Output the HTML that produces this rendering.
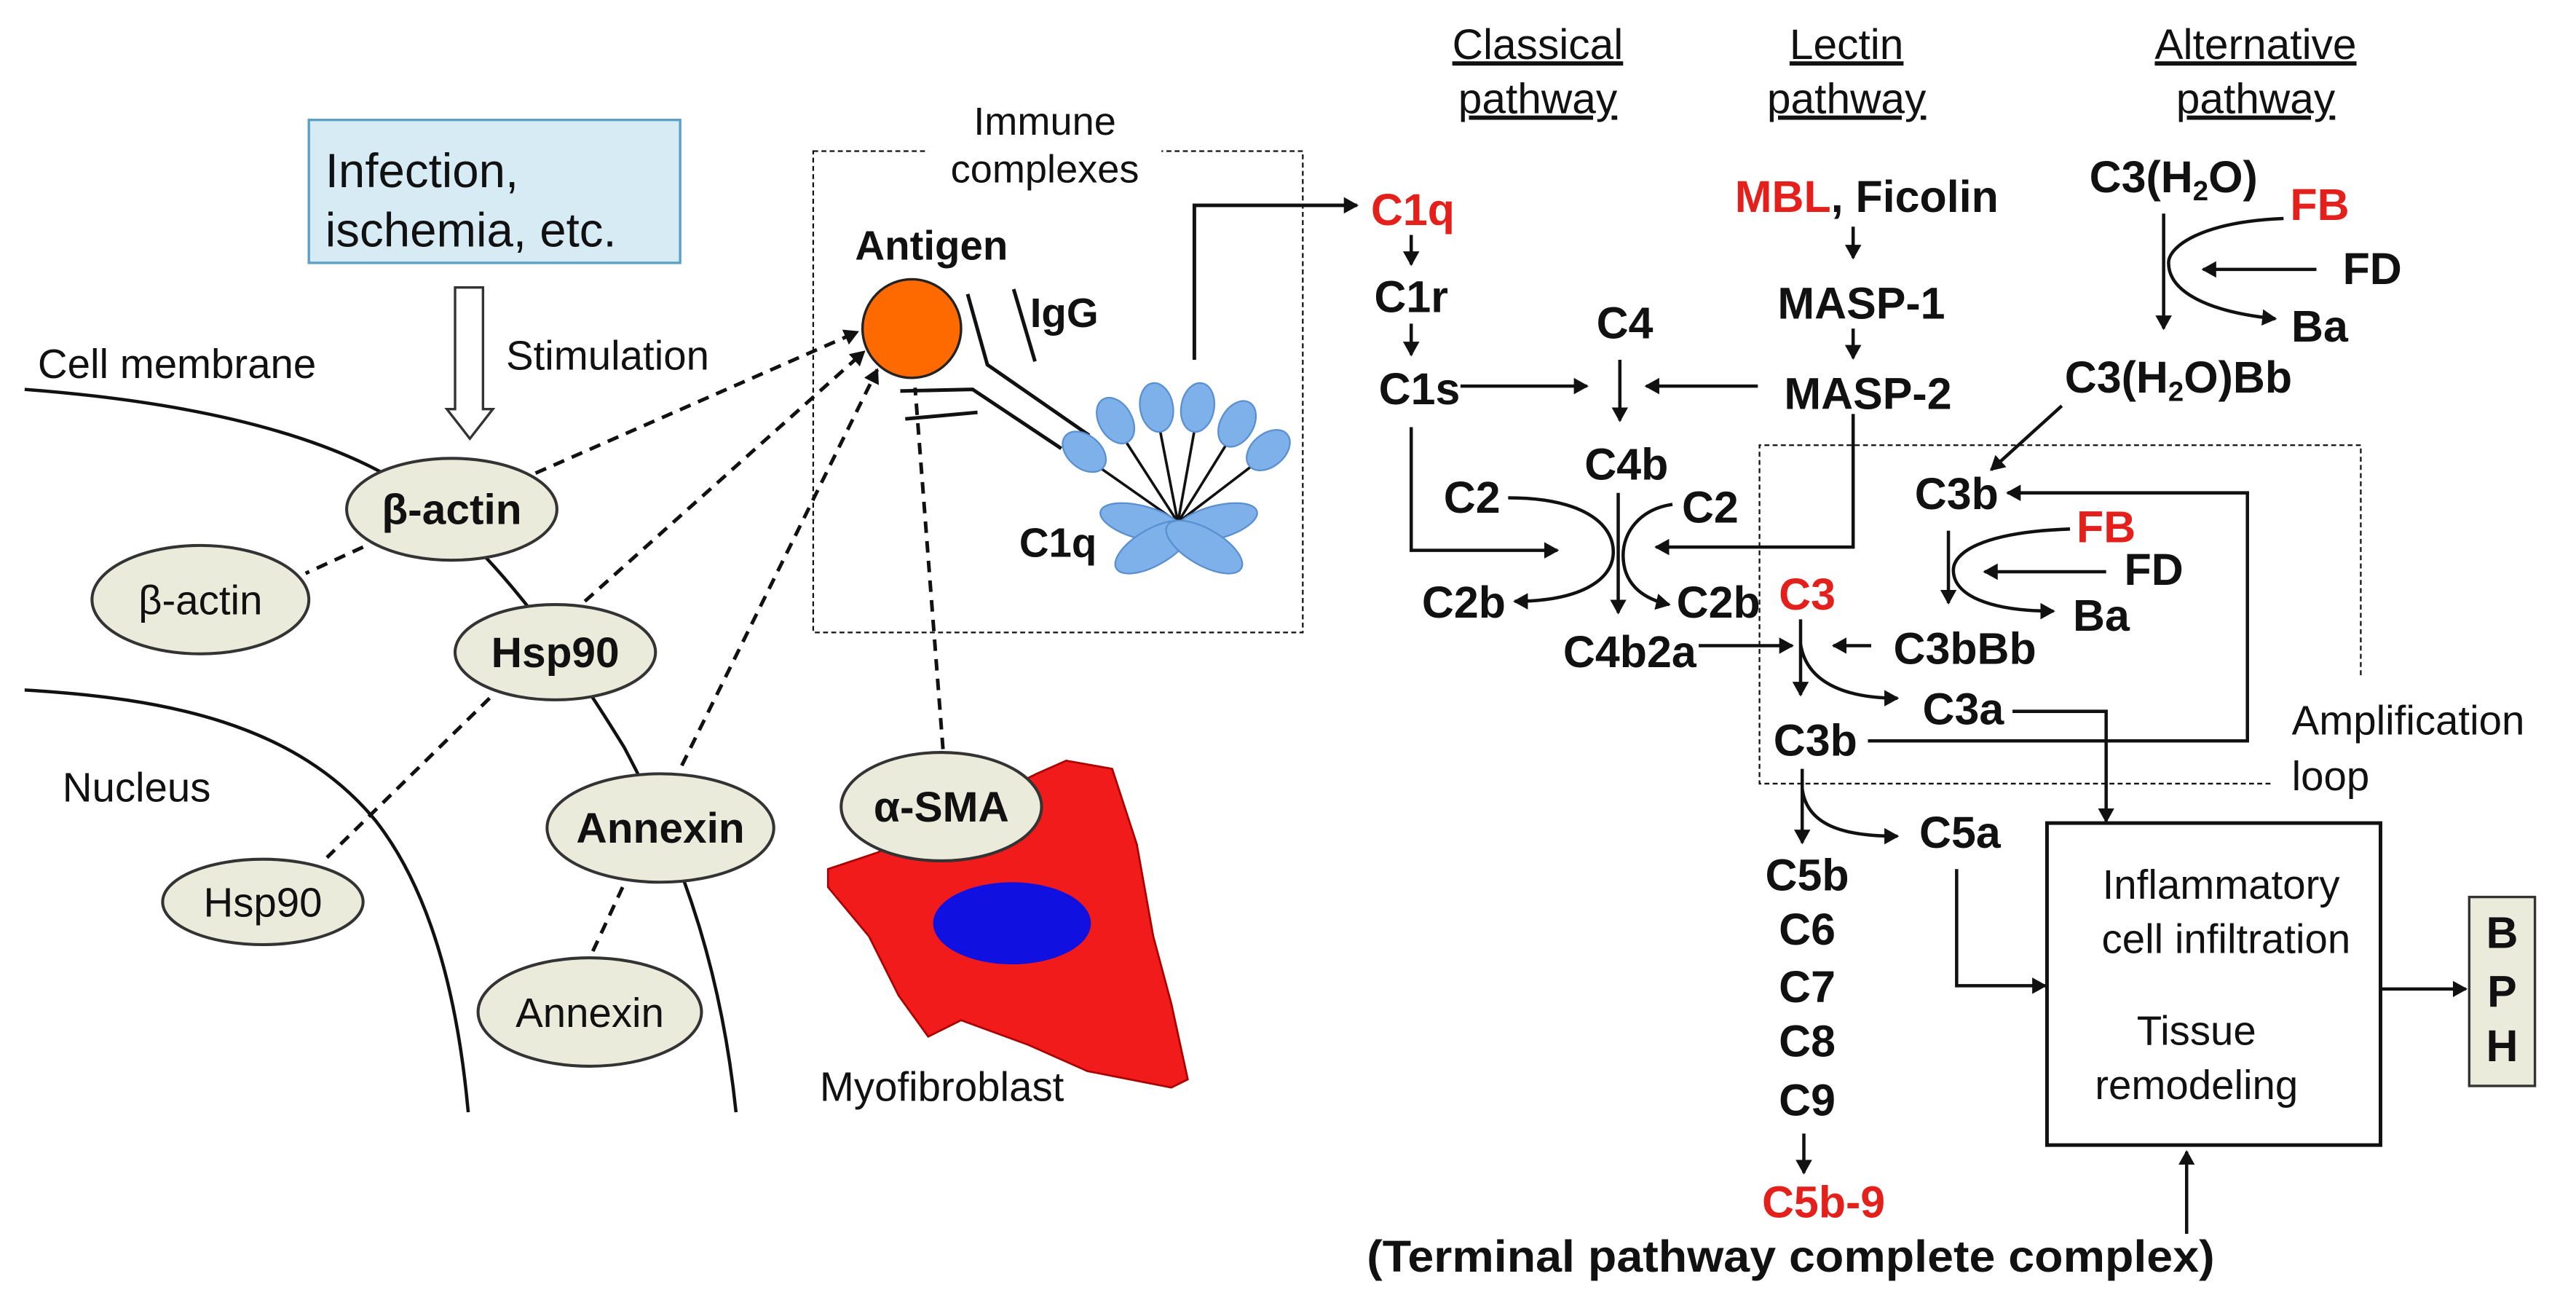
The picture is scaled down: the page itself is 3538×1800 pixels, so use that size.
<!DOCTYPE html>
<html><head><meta charset="utf-8"><style>
html,body{margin:0;padding:0;background:#fff;}
svg{display:block;}
text{font-family:"Liberation Sans",sans-serif;fill:#111;}
.b{font-weight:bold;font-size:27px;}
.r{font-size:27px;}
.red{fill:#e3201b;}
</style></head><body>
<svg width="3538" height="1800" viewBox="0 0 1568 798" preserveAspectRatio="none" xmlns="http://www.w3.org/2000/svg">
<defs>
<marker id="ah" markerWidth="10" markerHeight="10" refX="8" refY="5" orient="auto" markerUnits="userSpaceOnUse">
<path d="M0,0 L9,5 L0,10 Z" fill="#111"/></marker>
</defs>
<rect width="1568" height="798" fill="#fff"/>

<path d="M15,237 C120,245 200,265 250,298 C300,335 340,390 380,455 C420,530 440,600 448,677" fill="none" stroke="#111" stroke-width="2"/>
<path d="M15,420 C100,425 180,440 229,500 C260,540 278,600 285,677" fill="none" stroke="#111" stroke-width="2"/>

<rect x="188" y="73" width="226" height="87" fill="#d7ebf4" stroke="#5aa0c8" stroke-width="1.5"/>
<text x="198" y="114" style="font-size:29px">Infection,</text>
<text x="198" y="150" style="font-size:29px">ischemia, etc.</text>
<path d="M277,175 H294 V249 H300 L286,267 L272,249 H277 Z" fill="#fff" stroke="#333" stroke-width="1.5"/>
<text x="308" y="225" class="r" style="font-size:25px">Stimulation</text>
<text x="23" y="230" class="r" style="font-size:25px">Cell membrane</text>
<text x="38" y="488" class="r" style="font-size:25px">Nucleus</text>

<g stroke="#111" stroke-width="2.2" stroke-dasharray="7,5" fill="none">
<line x1="221" y1="333" x2="186" y2="349"/>
<line x1="298" y1="425" x2="199" y2="522"/>
<line x1="379" y1="540" x2="359" y2="583"/>
<line x1="326" y1="288" x2="522" y2="202" marker-end="url(#ah)"/>
<line x1="356" y1="366" x2="526" y2="214" marker-end="url(#ah)"/>
<line x1="415" y1="466" x2="534" y2="225" marker-end="url(#ah)"/>
<line x1="574" y1="456" x2="557" y2="236"/>
</g>

<g fill="#ebebdb" stroke="#333" stroke-width="1.8">
<ellipse cx="122" cy="365" rx="66" ry="33"/>
<ellipse cx="160" cy="549" rx="61" ry="26"/>
<ellipse cx="359" cy="616" rx="68" ry="33"/>
<ellipse cx="275" cy="310" rx="64" ry="31"/>
<ellipse cx="338" cy="397" rx="61" ry="29"/>
<ellipse cx="402" cy="504" rx="69" ry="33"/>
</g>
<text x="122" y="374" class="r" text-anchor="middle" style="font-size:25px">β-actin</text>
<text x="160" y="558" class="r" text-anchor="middle" style="font-size:25px">Hsp90</text>
<text x="359" y="625" class="r" text-anchor="middle" style="font-size:25px">Annexin</text>
<text x="275" y="319" class="b" text-anchor="middle" style="font-size:26px">β-actin</text>
<text x="338" y="406" class="b" text-anchor="middle" style="font-size:26px">Hsp90</text>
<text x="402" y="513" class="b" text-anchor="middle" style="font-size:26px">Annexin</text>

<rect x="495" y="92" width="298" height="293" fill="none" stroke="#111" stroke-width="1" stroke-dasharray="3,2"/>
<rect x="565" y="60" width="142" height="58" fill="#fff"/>
<text x="636" y="82" class="r" text-anchor="middle" style="font-size:24px">Immune</text>
<text x="636" y="111" class="r" text-anchor="middle" style="font-size:24px">complexes</text>
<text x="567" y="158" class="b" text-anchor="middle" style="font-size:25px">Antigen</text>
<circle cx="555" cy="200" r="30" fill="#ff6a00" stroke="#222" stroke-width="1.5"/>
<text x="627" y="199" class="b" style="font-size:25px">IgG</text>
<g stroke="#111" stroke-width="2.2" fill="none">
<polyline points="589,179 601,222 663,265"/>
<line x1="617" y1="176" x2="630" y2="220"/>
<polyline points="548,238 592,237 646,273"/>
<line x1="551" y1="255" x2="595" y2="251"/>
<polyline points="727,219 727,125 826,125" marker-end="url(#ah)"/>
</g>
<g stroke="#111" stroke-width="1.6">
<line x1="717" y1="318" x2="660" y2="278"/>
<line x1="717" y1="318" x2="679" y2="259"/>
<line x1="717" y1="318" x2="704" y2="251"/>
<line x1="717" y1="318" x2="729" y2="251"/>
<line x1="717" y1="318" x2="753" y2="260"/>
<line x1="717" y1="318" x2="772" y2="276"/>
</g>
<g fill="#7eb0ea" stroke="#5a8fd0" stroke-width="1">
<ellipse cx="660" cy="275" rx="10" ry="15" transform="rotate(-50 660 275)"/>
<ellipse cx="679" cy="256" rx="10" ry="15" transform="rotate(-30 679 256)"/>
<ellipse cx="704" cy="248" rx="10" ry="15" transform="rotate(-10 704 248)"/>
<ellipse cx="729" cy="248" rx="10" ry="15" transform="rotate(10 729 248)"/>
<ellipse cx="753" cy="258" rx="10" ry="15" transform="rotate(30 753 258)"/>
<ellipse cx="772" cy="274" rx="10" ry="15" transform="rotate(50 772 274)"/>
<ellipse cx="695" cy="318" rx="26" ry="10" transform="rotate(15 695 318)"/>
<ellipse cx="740" cy="318" rx="26" ry="10" transform="rotate(-15 740 318)"/>
<ellipse cx="702" cy="333" rx="26" ry="11" transform="rotate(-30 702 333)"/>
<ellipse cx="733" cy="333" rx="26" ry="11" transform="rotate(30 733 333)"/>
</g>
<text x="644" y="339" class="b" text-anchor="middle" style="font-size:25px">C1q</text>

<polygon points="631,471 649,463 677,468 692,514 702,570 713,611 723,657 713,662 662,652 626,636 585,621 565,631 547,606 529,570 504,540 504,529 534,519" fill="#f21b1b" stroke="#a00" stroke-width="1.2"/>
<ellipse cx="616" cy="562" rx="48" ry="25" fill="#1010e0"/>
<ellipse cx="573" cy="491" rx="61" ry="33" fill="#ebebdb" stroke="#333" stroke-width="1.8"/>
<text x="573" y="500" class="b" text-anchor="middle" style="font-size:26px">α-SMA</text>
<text x="499" y="670" class="r" style="font-size:25px">Myofibroblast</text>

<g class="r" style="font-size:26px">
<text x="936" y="36" text-anchor="middle" style="text-decoration:underline">Classical</text>
<text x="936" y="69" text-anchor="middle" style="text-decoration:underline">pathway</text>
<text x="1124" y="36" text-anchor="middle" style="text-decoration:underline">Lectin</text>
<text x="1124" y="69" text-anchor="middle" style="text-decoration:underline">pathway</text>
<text x="1373" y="36" text-anchor="middle" style="text-decoration:underline">Alternative</text>
<text x="1373" y="69" text-anchor="middle" style="text-decoration:underline">pathway</text>
</g>

<g transform="translate(0,-8)">
<text x="860" y="145" class="b red" text-anchor="middle">C1q</text>
<text x="859" y="198" class="b" text-anchor="middle">C1r</text>
<text x="864" y="254" class="b" text-anchor="middle">C1s</text>
<text x="989" y="214" class="b" text-anchor="middle">C4</text>
<text x="1133" y="202" class="b" text-anchor="middle">MASP-1</text>
<text x="1137" y="257" class="b" text-anchor="middle">MASP-2</text>
<text x="990" y="300" class="b" text-anchor="middle">C4b</text>
<text x="896" y="320" class="b" text-anchor="middle">C2</text>
<text x="1041" y="326" class="b" text-anchor="middle">C2</text>
<text x="891" y="384" class="b" text-anchor="middle">C2b</text>
<text x="1046" y="384" class="b" text-anchor="middle">C2b</text>
<text x="992" y="414" class="b" text-anchor="middle">C4b2a</text>
<text x="1100" y="379" class="b red" text-anchor="middle">C3</text>
<text x="1196" y="412" class="b" text-anchor="middle">C3bBb</text>
<text x="1195" y="449" class="b" text-anchor="middle">C3a</text>
<text x="1105" y="468" class="b" text-anchor="middle">C3b</text>
<text x="1191" y="318" class="b" text-anchor="middle">C3b</text>
<text x="1282" y="338" class="b red" text-anchor="middle">FB</text>
<text x="1311" y="364" class="b" text-anchor="middle">FD</text>
<text x="1279" y="392" class="b" text-anchor="middle">Ba</text>
<text x="1412" y="142" class="b red" text-anchor="middle">FB</text>
<text x="1444" y="181" class="b" text-anchor="middle">FD</text>
<text x="1412" y="216" class="b" text-anchor="middle">Ba</text>
<text x="1193" y="524" class="b" text-anchor="middle">C5a</text>
<text x="1100" y="550" class="b" text-anchor="middle">C5b</text>
<text x="1100" y="583" class="b" text-anchor="middle">C6</text>
<text x="1100" y="618" class="b" text-anchor="middle">C7</text>
<text x="1100" y="651" class="b" text-anchor="middle">C8</text>
<text x="1100" y="687" class="b" text-anchor="middle">C9</text>
<text x="1110" y="749" class="b red" text-anchor="middle">C5b-9</text>
<text x="1090" y="782" class="b" text-anchor="middle" textLength="516" lengthAdjust="spacingAndGlyphs">(Terminal pathway complete complex)</text>
<text x="1056" y="137" class="b"><tspan class="red">MBL</tspan>, Ficolin</text>
<text x="1323" y="125" class="b" text-anchor="middle">C3(H<tspan dy="5" style="font-size:17px">2</tspan><tspan dy="-5">O)</tspan></text>
<text x="1326" y="247" class="b" text-anchor="middle">C3(H<tspan dy="5" style="font-size:17px">2</tspan><tspan dy="-5">O)Bb</tspan></text>
<text x="1395" y="455" class="r" style="font-size:25px">Amplification</text>
<text x="1395" y="489" class="r" style="font-size:25px">loop</text>
<g class="r" style="font-size:25px">
<text x="1352" y="555" text-anchor="middle">Inflammatory</text>
<text x="1355" y="588" text-anchor="middle">cell infiltration</text>
<text x="1337" y="644" text-anchor="middle">Tissue</text>
<text x="1337" y="677" text-anchor="middle">remodeling</text>
</g>
</g>

<path d="M1382,477 H1071 V271 H1437 V412" fill="none" stroke="#111" stroke-width="1" stroke-dasharray="3,2"/>

<g stroke="#111" stroke-width="2" fill="none">
<line x1="859" y1="143" x2="859" y2="161" marker-end="url(#ah)"/>
<line x1="859" y1="197" x2="859" y2="216" marker-end="url(#ah)"/>
<line x1="1128" y1="138" x2="1128" y2="157" marker-end="url(#ah)"/>
<line x1="1128" y1="200" x2="1128" y2="218" marker-end="url(#ah)"/>
<line x1="889" y1="235" x2="966" y2="235" marker-end="url(#ah)"/>
<line x1="1070" y1="235" x2="1002" y2="235" marker-end="url(#ah)"/>
<line x1="986" y1="219" x2="986" y2="256" marker-end="url(#ah)"/>
<polyline points="859,260 859,335 948,335" marker-end="url(#ah)"/>
<polyline points="1128,252 1128,333 1008,333" marker-end="url(#ah)"/>
<line x1="985" y1="300" x2="985" y2="373" marker-end="url(#ah)"/>
<path d="M918,303 C962,303 982,318 982,336 C982,354 960,366 922,366" marker-end="url(#ah)"/>
<path d="M1018,307 C998,310 988,324 988,338 C988,354 998,364 1016,368" marker-end="url(#ah)"/>
<line x1="1034" y1="393" x2="1091" y2="393" marker-end="url(#ah)"/>
<line x1="1139" y1="393" x2="1116" y2="393" marker-end="url(#ah)"/>
<line x1="1096" y1="377" x2="1096" y2="423" marker-end="url(#ah)"/>
<path d="M1096,392 C1100,418 1128,425 1155,425" marker-end="url(#ah)"/>
<polyline points="1137,451 1368,451 1368,300 1222,300" marker-end="url(#ah)"/>
<polyline points="1225,433 1282,433 1282,500" marker-end="url(#ah)"/>
<line x1="1186" y1="323" x2="1186" y2="367" marker-end="url(#ah)"/>
<path d="M1260,322 C1205,324 1189,337 1189,347 C1189,362 1210,372 1250,372" marker-end="url(#ah)"/>
<line x1="1282" y1="348" x2="1208" y2="348" marker-end="url(#ah)"/>
<line x1="1317" y1="130" x2="1317" y2="200" marker-end="url(#ah)"/>
<path d="M1390,133 C1340,135 1320,150 1320,160 C1320,178 1345,190 1385,194" marker-end="url(#ah)"/>
<line x1="1410" y1="164" x2="1341" y2="164" marker-end="url(#ah)"/>
<line x1="1255" y1="247" x2="1212" y2="286" marker-end="url(#ah)"/>
<line x1="1097" y1="468" x2="1097" y2="513" marker-end="url(#ah)"/>
<path d="M1097,480 C1100,505 1128,509 1155,509" marker-end="url(#ah)"/>
<line x1="1098" y1="690" x2="1098" y2="714" marker-end="url(#ah)"/>
<polyline points="1191,529 1191,600 1245,600" marker-end="url(#ah)"/>
<line x1="1449" y1="602" x2="1501" y2="602" marker-end="url(#ah)"/>
<line x1="1331" y1="751" x2="1331" y2="701" marker-end="url(#ah)"/>
</g>

<rect x="1246" y="501" width="203" height="196" fill="none" stroke="#111" stroke-width="2.2"/>
<rect x="1503" y="546" width="40" height="115" fill="#ebebdb" stroke="#333" stroke-width="1.5"/>
<g transform="translate(0,-8)">
<text x="1523" y="585" class="b" text-anchor="middle">B</text>
<text x="1523" y="621" class="b" text-anchor="middle">P</text>
<text x="1523" y="654" class="b" text-anchor="middle">H</text>
</g>
</svg>
</body></html>
